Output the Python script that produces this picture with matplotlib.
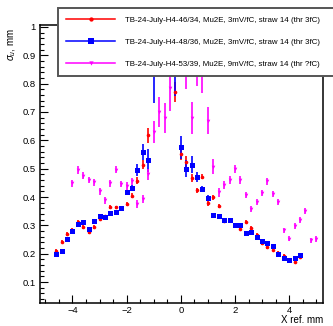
import numpy as np
import matplotlib
matplotlib.use("Agg")
import matplotlib.pyplot as plt
from matplotlib.lines import Line2D
from matplotlib.ticker import MultipleLocator

plt.rcParams['font.family'] = ['Liberation Sans', 'DejaVu Sans']
plt.rcParams['mathtext.fontset'] = 'custom'
plt.rcParams['mathtext.rm'] = 'Liberation Sans'
plt.rcParams['mathtext.it'] = 'Liberation Sans:italic'

# ---- data ----
x_red = [-4.6, -4.4, -4.2, -4.0, -3.8, -3.6, -3.4, -3.2, -3.0, -2.8, -2.6, -2.4, -2.2, -2.0,
         -1.8, -1.6, -1.4, -1.2, -1.0, -0.8, -0.6, -0.4, -0.2, 0.0, 0.2, 0.4, 0.6, 0.8, 1.0,
         1.2, 1.4, 1.6, 1.8, 2.0, 2.2, 2.4, 2.6, 2.8, 3.0, 3.2, 3.4, 3.6, 3.8, 4.0, 4.2, 4.4]
y_red = [0.210, 0.242, 0.270, 0.285, 0.312, 0.294, 0.276, 0.294, 0.322, 0.332, 0.364, 0.363,
         0.362, 0.376, 0.405, 0.458, 0.514, 0.618, 0.880, 0.950, 0.980, 0.920, 0.770, 0.552,
         0.525, 0.466, 0.423, 0.472, 0.378, 0.399, 0.369, 0.315, 0.318, 0.303, 0.288, 0.313,
         0.290, 0.266, 0.236, 0.222, 0.214, 0.203, 0.192, 0.178, 0.172, 0.190]
e_red = [0.006, 0.006, 0.006, 0.006, 0.007, 0.006, 0.006, 0.006, 0.006, 0.006, 0.007, 0.007,
         0.007, 0.008, 0.009, 0.012, 0.016, 0.026, 0.050, 0.060, 0.060, 0.050, 0.036, 0.020,
         0.018, 0.014, 0.010, 0.010, 0.009, 0.008, 0.007, 0.006, 0.006, 0.006, 0.006, 0.006,
         0.006, 0.006, 0.006, 0.006, 0.006, 0.006, 0.006, 0.006, 0.006, 0.006]

x_blue = list(x_red)
y_blue = [0.198, 0.210, 0.253, 0.279, 0.305, 0.311, 0.287, 0.316, 0.332, 0.328, 0.344, 0.348,
          0.362, 0.416, 0.432, 0.495, 0.560, 0.530, 0.900, 0.950, 0.980, 0.950, 0.850, 0.575,
          0.499, 0.514, 0.470, 0.428, 0.397, 0.338, 0.334, 0.320, 0.320, 0.303, 0.302, 0.274,
          0.277, 0.260, 0.245, 0.237, 0.227, 0.200, 0.184, 0.177, 0.184, 0.196]
e_blue = [0.006, 0.006, 0.006, 0.006, 0.007, 0.006, 0.006, 0.006, 0.007, 0.006, 0.007, 0.007,
          0.007, 0.010, 0.012, 0.020, 0.028, 0.040, 0.170, 0.120, 0.120, 0.110, 0.095, 0.040,
          0.030, 0.030, 0.018, 0.012, 0.010, 0.007, 0.007, 0.006, 0.006, 0.006, 0.006, 0.006,
          0.006, 0.006, 0.006, 0.006, 0.006, 0.006, 0.006, 0.006, 0.006, 0.006]

x_mag = [-4.0, -3.8, -3.6, -3.4, -3.2, -3.0, -2.8, -2.6, -2.4, -2.2, -2.0, -1.8, -1.6, -1.4,
         -1.2, -1.0, -0.8, -0.6, -0.4, -0.2, 0.0, 0.2, 0.4, 0.6, 0.8, 1.0, 1.2, 1.4, 1.6,
         1.8, 2.0, 2.2, 2.4, 2.6, 2.8, 3.0, 3.2, 3.4, 3.6, 3.8, 4.0, 4.2, 4.4, 4.6, 4.8, 5.0]
y_mag = [0.448, 0.495, 0.475, 0.460, 0.452, 0.420, 0.388, 0.448, 0.497, 0.446, 0.440, 0.455,
         0.375, 0.394, 0.480, 0.630, 0.700, 0.680, 0.786, 0.950, 0.950, 0.860, 0.680, 0.870,
         0.850, 0.669, 0.507, 0.417, 0.444, 0.461, 0.499, 0.460, 0.407, 0.358, 0.382, 0.415,
         0.455, 0.411, 0.382, 0.282, 0.253, 0.297, 0.320, 0.350, 0.247, 0.252]
e_mag = [0.012, 0.013, 0.012, 0.012, 0.012, 0.012, 0.012, 0.012, 0.014, 0.012, 0.014, 0.013,
         0.013, 0.014, 0.020, 0.038, 0.053, 0.053, 0.082, 0.100, 0.100, 0.080, 0.056, 0.080,
         0.082, 0.047, 0.026, 0.016, 0.014, 0.014, 0.014, 0.013, 0.012, 0.011, 0.011, 0.011,
         0.012, 0.011, 0.011, 0.010, 0.009, 0.010, 0.010, 0.011, 0.009, 0.009]

labels = ["TB-24-July-H4-46/34, Mu2E, 3mV/fC, straw 14 (thr 3fC)",
          "TB-24-July-H4-48/36, Mu2E, 3mV/fC, straw 14 (thr 3fC)",
          "TB-24-July-H4-53/39, Mu2E, 9mV/fC, straw 14 (thr ?fC)"]
colors = ['#ff0000', '#0000ff', '#ff00ff']
markers = ['o', 's', 'v']
msizes = [2.6, 3.6, 2.6]

W, H = 333, 326
fig = plt.figure(figsize=(W / 100, H / 100), dpi=100)
ax = fig.add_axes([40 / W, 1 - 303 / H, 283 / W, 278 / H])

series = [(x_red, y_red, e_red), (x_blue, y_blue, e_blue), (x_mag, y_mag, e_mag)]
for (xs, ys, es), c, m, ms in zip(series, colors, markers, msizes):
    ax.errorbar(xs, ys, yerr=es, fmt=m, color=c, ms=ms, mew=0, elinewidth=1.2,
                capsize=0, zorder=3)

ax.set_xlim(-5.2, 5.25)
ax.set_ylim(0.026, 1.007)
ax.xaxis.set_major_locator(MultipleLocator(2))
ax.xaxis.set_minor_locator(MultipleLocator(0.5))
ax.yaxis.set_major_locator(MultipleLocator(0.1))
ax.yaxis.set_minor_locator(MultipleLocator(0.02))
ax.set_yticks([0.1, 0.2, 0.3, 0.4, 0.5, 0.6, 0.7, 0.8, 0.9, 1.0])
ax.set_yticklabels(['0.1', '0.2', '0.3', '0.4', '0.5', '0.6', '0.7', '0.8', '0.9', '1'])
ax.set_xticks([-4, -2, 0, 2, 4])
ax.set_xticklabels(['\u22124', '\u22122', '0', '2', '4'])
ax.tick_params(which='both', direction='in', top=False, right=False, width=0.8,
               labelsize=6.8, colors='black')
ax.tick_params(which='major', length=5.5)
ax.tick_params(which='minor', length=3)
ax.tick_params(axis='y', pad=3)
ax.tick_params(axis='x', pad=2.5)
for s in ax.spines.values():
    s.set_linewidth(1.1)

fig.text(12 / W, 1 - 28 / H, r'$\sigma_{u}$, mm', rotation=90, ha='center', va='top',
         fontsize=7)
fig.text(323 / W, 1 - 320 / H, 'X ref. mm', ha='right', va='center', fontsize=7)

handles = [Line2D([0], [0], color=c, marker=m, ms=ms + 0.5, mew=0, lw=1.1)
           for c, m, ms in zip(colors, markers, msizes)]
leg = ax.legend(handles, labels, loc='upper left',
                bbox_to_anchor=(58 / W, 1 - 8 / H, 300 / W, 0.0),
                bbox_transform=fig.transFigure, mode='expand', borderaxespad=0,
                fontsize=5.7, handlelength=6.2, handletextpad=1.2, labelspacing=1.83,
                borderpad=1.05, fancybox=False, framealpha=1, edgecolor='#555555')
leg.get_frame().set_linewidth(1.4)
leg.set_zorder(10)

fig.savefig('out.png', dpi=100)
